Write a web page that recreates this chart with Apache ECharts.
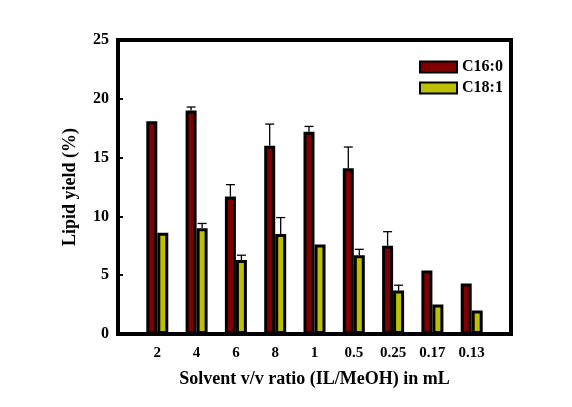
<!DOCTYPE html>
<html>
<head>
<meta charset="utf-8">
<script src="https://cdn.jsdelivr.net/npm/echarts@6/dist/echarts.min.js"></script>
<style>html,body{margin:0;padding:0;background:#fff}#c{width:572px;height:407px}</style>
</head>
<body>
<div id="c"></div>
<script>
const categories = ['2', '4', '6', '8', '1', '0.5', '0.25', '0.17', '0.13'];
const c16 = [18.1, 19.0, 11.7, 16.0, 17.2, 14.1, 7.5, 5.4, 4.3];
const c18 = [8.6, 9.0, 6.3, 8.5, 7.6, 6.7, 3.7, 2.5, 2.0];
const c16Err = [0, 0.3, 1.0, 1.85, 0.45, 1.8, 1.2, 0, 0];
const c18Err = [0, 0.4, 0.4, 1.4, 0, 0.5, 0.45, 0, 0];
const yTicks = [0, 5, 10, 15, 20, 25];

const FONT = 'Liberation Serif';
const axisCats = [''].concat(categories, ['']);
const pad = a => [null].concat(a, [null]);
const BAR_W = 11, BORDER = 3, OFFSET = 5.5;

function errSeries(vals, errs, dx) {
  const data = vals.map((v, i) => [i + 1, v, errs[i]]).filter(d => d[2] > 0);
  return {
    type: 'custom',
    silent: true,
    z: 1,
    renderItem: function (params, api) {
      const x = api.value(0), v = api.value(1), e = api.value(2);
      const p0 = api.coord([x, v]);
      const p1 = api.coord([x, v + e]);
      const cx = p0[0] + dx;
      return {
        type: 'group',
        children: [
          {type: 'line', shape: {x1: cx, y1: p0[1], x2: cx, y2: p1[1]}, style: {stroke: '#000', lineWidth: 1.3}},
          {type: 'line', shape: {x1: cx - 4.5, y1: p1[1], x2: cx + 4.5, y2: p1[1]}, style: {stroke: '#000', lineWidth: 1.3}}
        ]
      };
    },
    data: data
  };
}

const chart = echarts.init(document.getElementById('c'));
chart.setOption({
  animation: false,
  backgroundColor: '#fff',
  grid: {left: 118, right: 61, top: 40, bottom: 73, show: true, borderColor: '#000', borderWidth: 4, backgroundColor: 'transparent'},
  legend: {
    orient: 'vertical', left: 414, top: 54, itemWidth: 37, itemHeight: 11, itemGap: 5,
    icon: 'rect',
    textStyle: {fontFamily: FONT, fontWeight: 'bold', fontSize: 16, color: '#000', padding: [0, 0, 0, 0]},
    data: ['C16:0', 'C18:1']
  },
  xAxis: {
    type: 'category', data: axisCats, boundaryGap: false,
    name: 'Solvent v/v ratio (IL/MeOH) in mL', nameLocation: 'middle', nameGap: 36,
    nameTextStyle: {fontFamily: FONT, fontWeight: 'bold', fontSize: 18, color: '#000'},
    axisLine: {lineStyle: {color: '#000', width: 4}},
    axisTick: {show: false},
    axisLabel: {interval: 0, fontFamily: FONT, fontWeight: 'bold', fontSize: 15, color: '#000', margin: 12},
    splitLine: {show: false}
  },
  yAxis: {
    type: 'value', min: 0, max: 25, interval: 5,
    name: 'Lipid yield (%)', nameLocation: 'middle', nameGap: 39,
    nameTextStyle: {fontFamily: FONT, fontWeight: 'bold', fontSize: 18, color: '#000'},
    axisLine: {show: true, lineStyle: {color: '#000', width: 4}},
    axisTick: {show: true, inside: true, length: 5, lineStyle: {color: '#000', width: 2}},
    axisLabel: {fontFamily: FONT, fontWeight: 'bold', fontSize: 16, color: '#000', margin: 9,
      formatter: v => yTicks.indexOf(v) >= 0 ? String(v) : ''},
    splitLine: {show: false}
  },
  series: [
    {name: 'C16:0', type: 'bar', data: pad(c16), barWidth: BAR_W, barGap: '0%',
      itemStyle: {color: '#800000', borderColor: '#000', borderWidth: BORDER}, z: 2},
    {name: 'C18:1', type: 'bar', data: pad(c18), barWidth: BAR_W,
      itemStyle: {color: '#bcc000', borderColor: '#000', borderWidth: BORDER}, z: 2},
    errSeries(c16, c16Err, -OFFSET),
    errSeries(c18, c18Err, OFFSET)
  ]
});
</script>
</body>
</html>
